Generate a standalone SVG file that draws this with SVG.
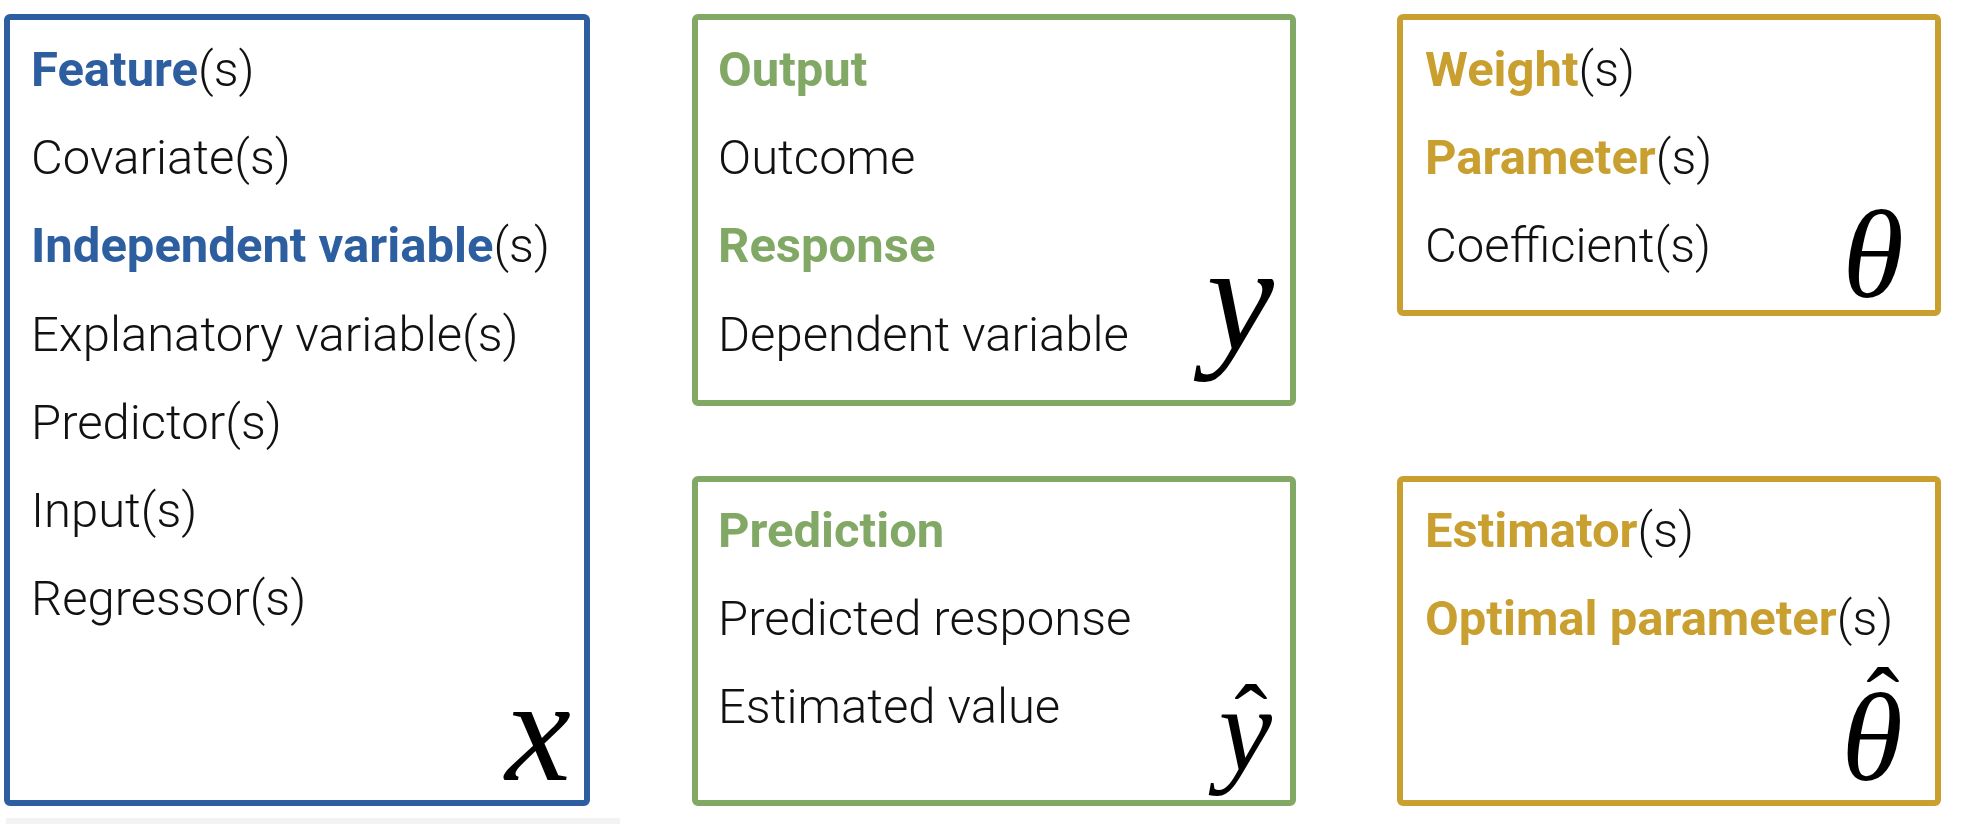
<svg xmlns="http://www.w3.org/2000/svg" width="1980" height="824" viewBox="0 0 1980 824">
<style>
  .box { fill: #ffffff; stroke-width: 6; }
  .blue { stroke: #2D5FA0; }
  .green { stroke: #82A866; }
  .gold { stroke: #C9A030; }
  .t { font-family: Roboto, "Liberation Sans", sans-serif; font-size: 49px; font-weight: 300; fill: #111111; }
  .b { font-weight: 700; }
  .cb { fill: #2D5FA0; }
  .cg { fill: #82A866; }
  .cy { fill: #C9A030; }
  .m { font-family: "Liberation Serif", "DejaVu Serif", serif; font-style: italic; fill: #000000; }
  .hat { font-style: normal; }
</style>
<rect x="0" y="0" width="1980" height="824" fill="#ffffff"/>
<rect x="6" y="818" width="614" height="6" fill="#f3f3f3"/>
<g id="node-x">
  <rect class="box blue" x="7" y="17" width="580" height="786" rx="3"/>
  <text class="t" x="31" y="86"><tspan class="b cb">Feature</tspan>(s)</text>
  <text class="t" x="31" y="174">Covariate(s)</text>
  <text class="t" x="31" y="262"><tspan class="b cb">Independent variable</tspan>(s)</text>
  <text class="t" x="31" y="351">Explanatory variable(s)</text>
  <text class="t" x="31" y="439">Predictor(s)</text>
  <text class="t" x="31" y="527">Input(s)</text>
  <text class="t" x="31" y="615">Regressor(s)</text>
  <text class="m" x="571" y="780" font-size="148" text-anchor="end">x</text>
</g>
<g id="node-y">
  <rect class="box green" x="695" y="17" width="598" height="386" rx="3"/>
  <text class="t b cg" x="718" y="86">Output</text>
  <text class="t" x="718" y="174">Outcome</text>
  <text class="t b cg" x="718" y="262">Response</text>
  <text class="t" x="718" y="351">Dependent variable</text>
  <text class="m" x="1274" y="349" font-size="152" text-anchor="end">y</text>
</g>
<g id="node-yhat">
  <rect class="box green" x="695" y="479" width="598" height="324" rx="3"/>
  <text class="t b cg" x="718" y="547">Prediction</text>
  <text class="t" x="718" y="635">Predicted response</text>
  <text class="t" x="718" y="723">Estimated value</text>
  <text class="m" font-size="120"><tspan x="1272" y="770" text-anchor="end">y</tspan><tspan class="hat" x="1251" y="754" font-size="100" text-anchor="middle">ˆ</tspan></text>
</g>
<g id="node-theta">
  <rect class="box gold" x="1400" y="17" width="538" height="296" rx="3"/>
  <text class="t" x="1425" y="86"><tspan class="b cy">Weight</tspan>(s)</text>
  <text class="t" x="1425" y="174"><tspan class="b cy">Parameter</tspan>(s)</text>
  <text class="t" x="1425" y="262">Coefficient(s)</text>
  <text class="m" x="1904" y="297" font-size="125" text-anchor="end">θ</text>
</g>
<g id="node-thetahat">
  <rect class="box gold" x="1400" y="479" width="538" height="324" rx="3"/>
  <text class="t" x="1425" y="547"><tspan class="b cy">Estimator</tspan>(s)</text>
  <text class="t" x="1425" y="635"><tspan class="b cy">Optimal parameter</tspan>(s)</text>
  <text class="m" font-size="125"><tspan x="1903" y="780" text-anchor="end">θ</tspan><tspan class="hat" x="1883" y="737" font-size="100" text-anchor="middle">ˆ</tspan></text>
</g>
<g id="connectors"></g>
</svg>
